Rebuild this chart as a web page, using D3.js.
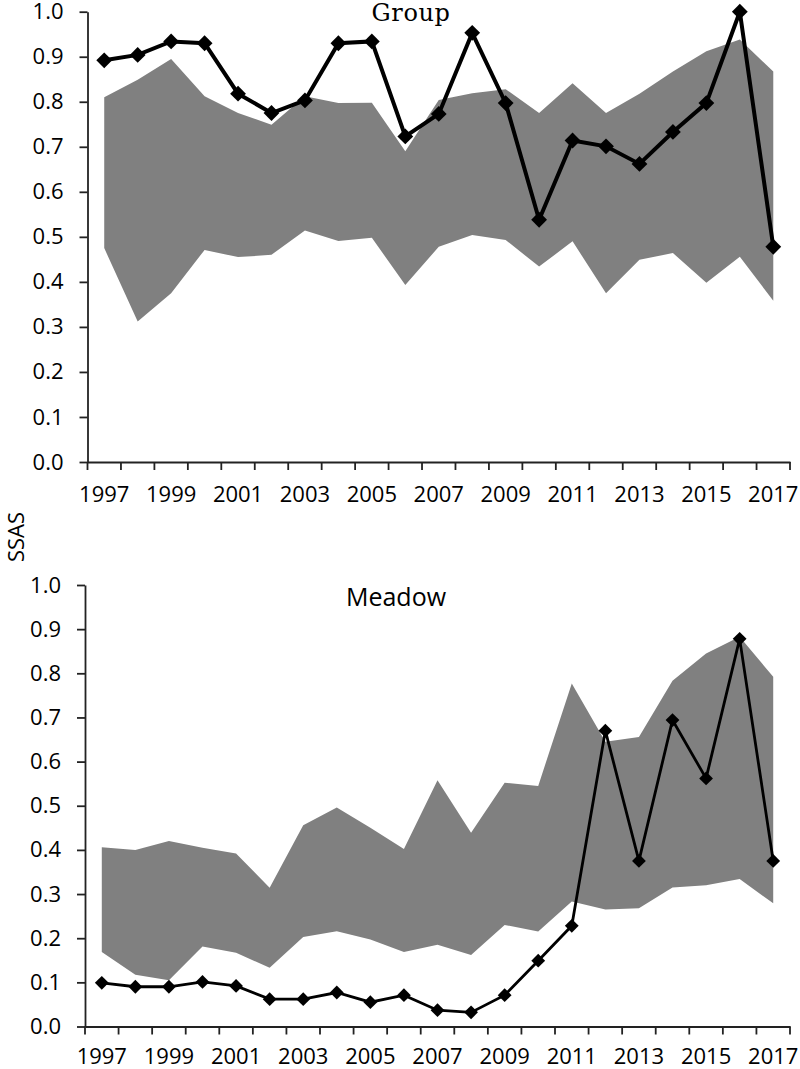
<!DOCTYPE html>
<html><head><meta charset="utf-8">
<script src="https://cdn.jsdelivr.net/npm/d3@7"></script>
<style>
body{margin:0;background:#fff}
svg text{font-family:'Open Sans',sans-serif;fill:#000}
</style>
</head><body>
<svg id="c" width="800" height="1069"></svg>
<script>
// ---- data ----
const years = ["1997","1998","1999","2000","2001","2002","2003","2004","2005","2006","2007",
               "2008","2009","2010","2011","2012","2013","2014","2015","2016","2017"];
const xTickLabels = ["1997","1999","2001","2003","2005","2007","2009","2011","2013","2015","2017"];
const yTicks = [0,0.1,0.2,0.3,0.4,0.5,0.6,0.7,0.8,0.9,1.0];

const groupSSAS  = [0.892,0.904,0.934,0.930,0.818,0.775,0.803,0.930,0.934,0.723,0.773,
                    0.953,0.797,0.538,0.714,0.701,0.662,0.733,0.797,1.000,0.478];
const groupUpper = [0.810,0.849,0.895,0.812,0.775,0.749,0.812,0.797,0.798,0.690,0.804,
                    0.819,0.828,0.775,0.841,0.775,0.818,0.867,0.912,0.938,0.867];
const groupLower = [0.475,0.312,0.375,0.471,0.455,0.460,0.514,0.491,0.498,0.393,0.478,
                    0.504,0.493,0.434,0.490,0.375,0.449,0.464,0.398,0.456,0.358];

const meadowSSAS  = [0.099,0.090,0.090,0.101,0.092,0.062,0.062,0.077,0.055,0.071,0.037,
                     0.032,0.071,0.149,0.228,0.670,0.375,0.694,0.562,0.878,0.375];
const meadowUpper = [0.406,0.400,0.420,0.405,0.392,0.314,0.456,0.496,0.450,0.402,0.558,
                     0.439,0.552,0.545,0.777,0.645,0.656,0.783,0.845,0.883,0.792];
const meadowLower = [0.169,0.117,0.105,0.181,0.167,0.133,0.203,0.216,0.197,0.169,0.185,
                     0.162,0.230,0.215,0.283,0.265,0.268,0.315,0.320,0.334,0.279];

const svg = d3.select("#c");

function panel(cfg){
  const g = svg.append("g");
  const x = d3.scaleBand().domain(years).range([cfg.left, cfg.right]).padding(0);
  const y = d3.scaleLinear().domain([0,1]).range([cfg.bottom, cfg.top]);
  const cx = d => x(d) + x.bandwidth()/2;

  // band
  const area = d3.area()
    .x((d,i)=>cx(years[i]))
    .y0((d,i)=>y(cfg.lower[i]))
    .y1((d,i)=>y(cfg.upper[i]));
  g.append("path").datum(cfg.upper).attr("d", area).attr("fill", "#808080");

  // y axis
  const ya = g.append("g").attr("transform", `translate(${cfg.left},0)`)
    .call(d3.axisLeft(y).tickValues(yTicks).tickFormat(d3.format(".1f"))
      .tickSize(8).tickSizeOuter(0).tickPadding(16));
  ya.selectAll("text").style("font-size","22px");

  // x axis: labels at category centres, ticks at category boundaries
  const xa = g.append("g").attr("transform", `translate(0,${cfg.bottom})`)
    .call(d3.axisBottom(x).tickValues(xTickLabels).tickSize(0).tickSizeOuter(0).tickPadding(cfg.xpad));
  xa.selectAll("text").style("font-size","22px");
  const bounds = years.map(d => x(d)).concat([x.range()[1]]);
  xa.selectAll("line.bt").data(bounds).enter().append("line").attr("class","bt")
    .attr("x1", d=>d).attr("x2", d=>d).attr("y1", 0).attr("y2", 8);

  [ya, xa].forEach(a=>{
    a.selectAll("path.domain, line").attr("stroke","#222").attr("stroke-width",1.8);
  });

  // line
  const line = d3.line().x((d,i)=>cx(years[i])).y(d=>y(d));
  g.append("path").datum(cfg.values).attr("d", line)
    .attr("fill","none").attr("stroke","#000").attr("stroke-width",cfg.lw)
    .attr("stroke-linejoin","miter");

  // diamond markers
  const sym = d3.symbol().type(d3.symbolSquare).size(cfg.ms);
  g.selectAll("path.m").data(cfg.values).enter().append("path").attr("class","m")
    .attr("d", sym)
    .attr("transform", (d,i)=>`translate(${cx(years[i])},${y(d)}) rotate(45)`)
    .attr("fill","#000");

  // title
  g.append("text").attr("x", cfg.tx).attr("y", cfg.ty).attr("text-anchor","middle")
    .style("font-family", cfg.tfont).style("font-size", cfg.tsize)
    .style("letter-spacing", cfg.tls || "0px")
    .text(cfg.title);
}

panel({left:87.5, right:790, top:11.7, bottom:462, xpad:24,
  values:groupSSAS, upper:groupUpper, lower:groupLower, lw:4, ms:125,
  title:"Group", tx:411, ty:21, tfont:"'DejaVu Serif', serif", tsize:"24px", tls:"0.6px"});

panel({left:85, right:790, top:585, bottom:1026.5, xpad:22,
  values:meadowSSAS, upper:meadowUpper, lower:meadowLower, lw:2.8, ms:95,
  title:"Meadow", tx:396, ty:606, tfont:"'Open Sans', sans-serif", tsize:"25px"});

svg.append("text").attr("transform","translate(24,537) rotate(-90)")
  .attr("text-anchor","middle").style("font-size","22px").text("SSAS");
</script>
</body></html>
